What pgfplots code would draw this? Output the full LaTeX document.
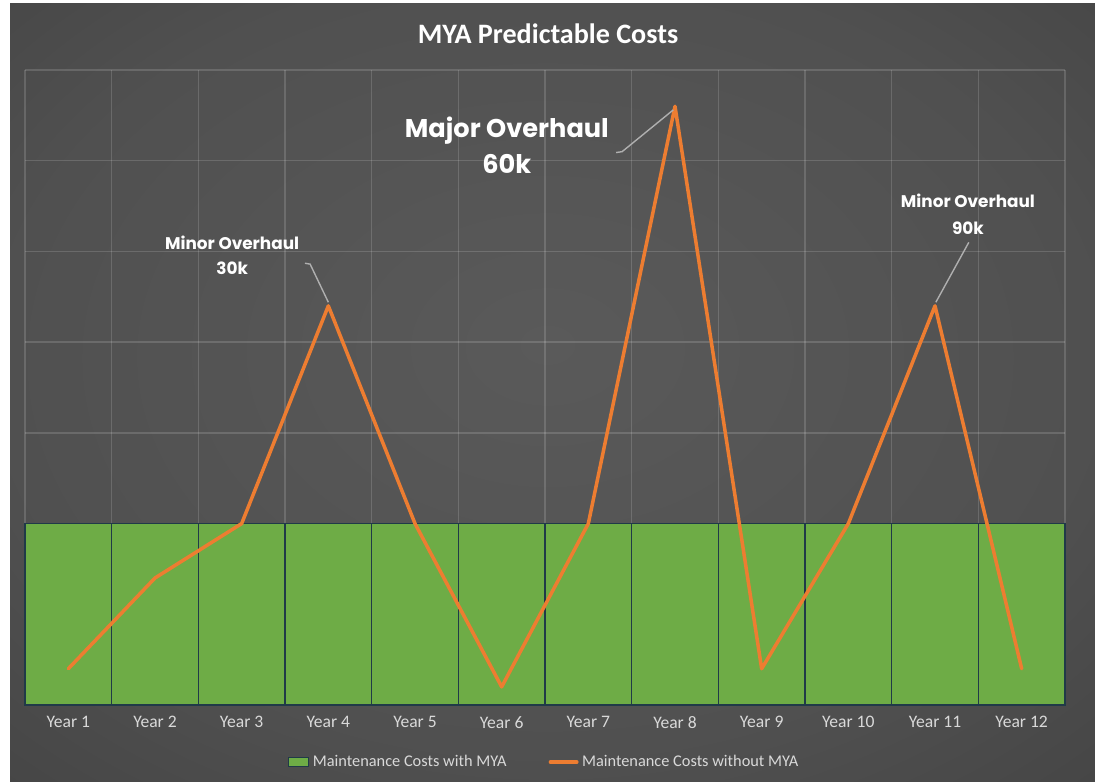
\documentclass[border=0pt]{standalone}
\usepackage{pgfplots}
\pgfplotsset{compat=1.18}
\usepackage{fontspec}
\setmainfont{Carlito}
\newfontfamily\pop{Poppins}
\definecolor{bgA}{RGB}{90,90,90}
\definecolor{bgB}{RGB}{80,80,80}
\definecolor{bgC}{RGB}{58,58,58}
\definecolor{bgD}{RGB}{38,38,38}
\pgfdeclareradialshading{bgshade}{\pgfpoint{0bp}{3bp}}{color(0bp)=(bgA); color(25bp)=(bgB); color(50bp)=(bgC); color(72bp)=(bgD)}
\definecolor{bargreen}{RGB}{110,172,70}
\definecolor{baredge}{RGB}{32,58,72}
\definecolor{lineorange}{RGB}{237,125,49}
\definecolor{ticktxt}{RGB}{217,217,217}
\definecolor{leader}{RGB}{175,175,175}
\begin{document}
\begin{tikzpicture}
\shade[shading=bgshade] (0,0) rectangle (21.9cm,15.64cm);
\fill[white] (0,0) rectangle (0.2cm,15.64cm);
\fill[white] (0,15.58cm) rectangle (21.9cm,15.64cm);
\node[text=white, font=\bfseries\fontsize{16}{19}\selectfont] at (10.96cm,14.96cm) {MYA Predictable Costs};
\begin{axis}[
  at={(0.5cm,1.54cm)}, anchor=south west,
  scale only axis, width=20.8cm, height=12.7cm,
  xmin=0.5, xmax=12.5, ymin=0, ymax=70,
  xtick={1,...,12},
  xticklabels={Year 1,Year 2,Year 3,Year 4,Year 5,Year 6,Year 7,Year 8,Year 9,Year 10,Year 11,Year 12},
  minor xtick={0.5,1.5,...,12.5},
  ytick={0,10,...,70}, yticklabels={},
  xminorgrids=true, ymajorgrids=true,
  grid style={white, opacity=0.15, line width=0.8pt},
  minor grid style={white, opacity=0.15, line width=0.8pt},
  major tick length=0pt, minor tick length=0pt,
  axis line style={draw=none},
  xticklabel style={text=ticktxt, font=\fontsize{10}{12}\selectfont, yshift=-3pt},
  clip=false,
  legend style={at={(0.5,-0.09)}, anchor=center, draw=none, fill=none,
    text=ticktxt, font=\fontsize{9.3}{11}\selectfont},
  legend columns=2,
  /tikz/every even column/.append style={column sep=22pt},
]
\addplot[ybar, bar width=1, bar shift=0pt, fill=bargreen, draw=baredge, line width=0.8pt,
  legend image code/.code={\draw[fill=bargreen, draw=baredge, line width=0.6pt] (0pt,-2.6pt) rectangle (11.5pt,2.6pt);}]
  coordinates {(1,20) (2,20) (3,20) (4,20) (5,20) (6,20) (7,20) (8,20) (9,20) (10,20) (11,20) (12,20)};
\addlegendentry{Maintenance Costs with MYA}
\addplot[lineorange, line width=2pt, line join=round, line cap=round,
  legend image code/.code={\draw[lineorange, line width=2pt] (0pt,0pt) -- (15pt,0pt);}]
  coordinates {(1,4) (2,14) (3,20) (4,44) (5,20) (6,2) (7,20) (8,66) (9,4) (10,20) (11,44) (12,4)};
\addlegendentry{Maintenance Costs without MYA}
\draw[leader, line width=0.8pt] (axis cs:3.73,48.7) -- (axis cs:3.79,48.6) -- (axis cs:4.0,44.4);
\draw[leader, line width=0.8pt] (axis cs:7.32,60.9) -- (axis cs:7.39,61.0) -- (axis cs:7.98,65.6);
\draw[leader, line width=0.8pt] (axis cs:11.39,51.0) -- (axis cs:11.01,44.4);
\node[align=center, text=white, font=\pop\bfseries\fontsize{9.6}{14}\selectfont] at (axis cs:2.89,49.6) {Minor Overhaul\\30k};
\node[align=center, text=white, font=\pop\bfseries\fontsize{14.6}{20}\selectfont] at (axis cs:6.06,61.7) {Major Overhaul\\60k};
\node[align=center, text=white, font=\pop\bfseries\fontsize{9.6}{15.5}\selectfont] at (axis cs:11.38,54.1) {Minor Overhaul\\90k};
\end{axis}
\end{tikzpicture}
\end{document}
